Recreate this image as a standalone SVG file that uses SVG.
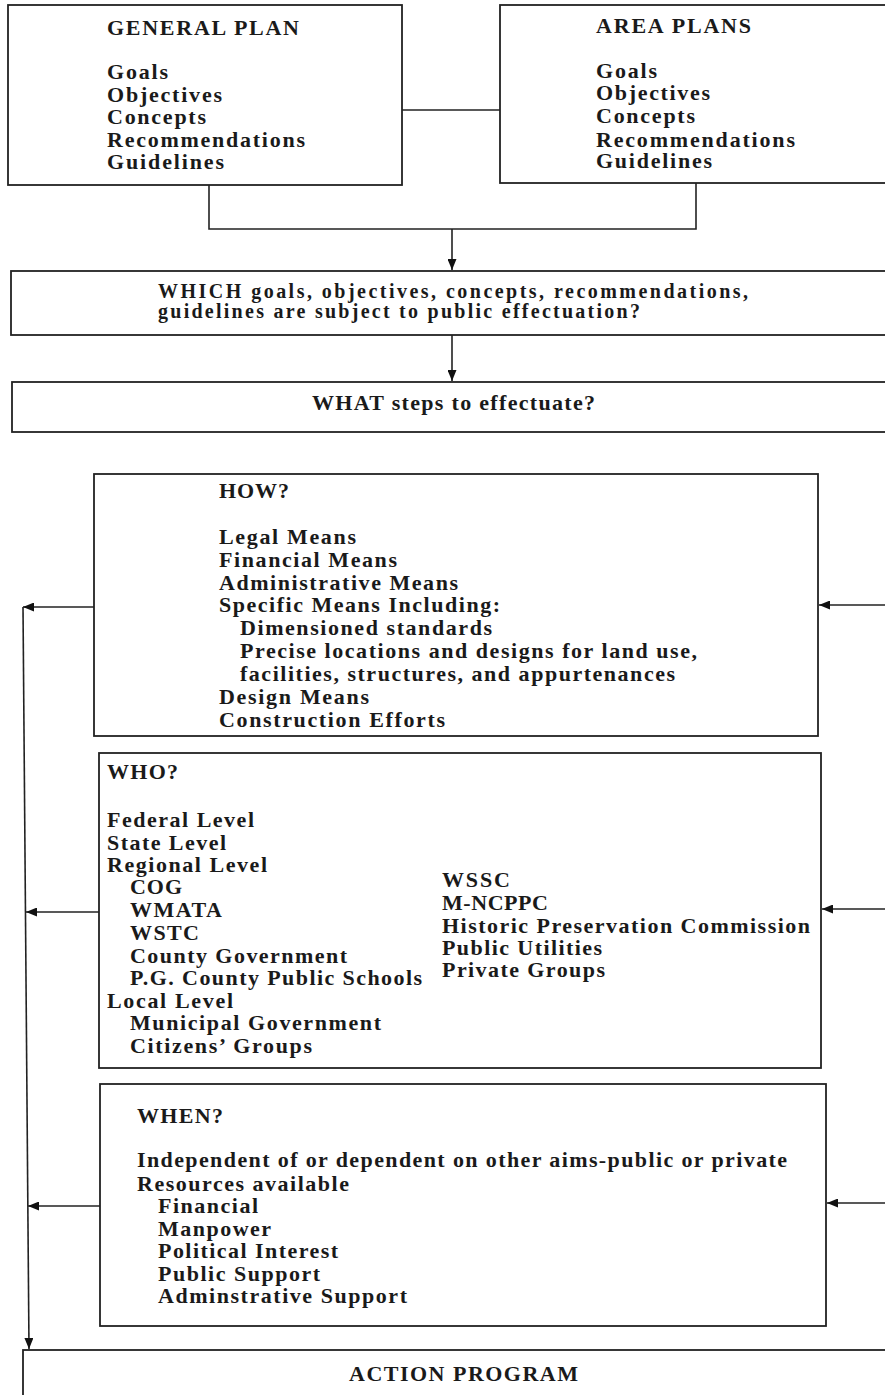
<svg xmlns="http://www.w3.org/2000/svg" width="885" height="1395" viewBox="0 0 885 1395">
<style>
.box{fill:#fff;stroke:#222;stroke-width:1.8}
.t{font-family:"Liberation Serif","Times New Roman",serif;font-weight:bold;fill:#1a1a1a;font-size:21px}
.w{font-size:22px}
.q{font-size:20px}
.s{font-size:22px}
.c{fill:none;stroke:#222;stroke-width:1.6}
</style>
<defs>
<marker id="arr" markerUnits="userSpaceOnUse" markerWidth="11" markerHeight="9" refX="11" refY="4.5" orient="auto">
<path d="M0,0 L11,4.5 L0,9 z" fill="#111"/>
</marker>
</defs>
<rect width="885" height="1395" fill="#fff"/>

<g id="connectors">
<line class="c" x1="402" y1="110" x2="500" y2="110"/>
<polyline class="c" points="209,185 209,229 696,229 696,183"/>
<line class="c" x1="452" y1="229" x2="452" y2="270" marker-end="url(#arr)"/>
<line class="c" x1="452" y1="335" x2="452" y2="381" marker-end="url(#arr)"/>
<line class="c" x1="885" y1="605" x2="819" y2="605" marker-end="url(#arr)"/>
<line class="c" x1="885" y1="909" x2="822" y2="909" marker-end="url(#arr)"/>
<line class="c" x1="885" y1="1203" x2="827" y2="1203" marker-end="url(#arr)"/>
<line class="c" x1="94" y1="607" x2="23" y2="607" marker-end="url(#arr)"/>
<line class="c" x1="99" y1="912" x2="26" y2="912" marker-end="url(#arr)"/>
<line class="c" x1="100" y1="1206" x2="28" y2="1206" marker-end="url(#arr)"/>
<line class="c" x1="23" y1="607" x2="29" y2="1349" marker-end="url(#arr)"/>
</g>

<g id="general-plan">
<rect class="box" x="8" y="5" width="394" height="180"/>
<text class="t w" x="107" y="35" textLength="192">GENERAL PLAN</text>
<text class="t w" x="107" y="79" textLength="61">Goals</text>
<text class="t w" x="107" y="102" textLength="115">Objectives</text>
<text class="t w" x="107" y="124" textLength="99">Concepts</text>
<text class="t w" x="107" y="147" textLength="198">Recommendations</text>
<text class="t w" x="107" y="169" textLength="117">Guidelines</text>
</g>

<g id="area-plans">
<rect class="box" x="500" y="5" width="400" height="178"/>
<text class="t w" x="596" y="33" textLength="155">AREA PLANS</text>
<text class="t w" x="596" y="78" textLength="61">Goals</text>
<text class="t w" x="596" y="100" textLength="114">Objectives</text>
<text class="t w" x="596" y="123" textLength="99">Concepts</text>
<text class="t w" x="596" y="147" textLength="199">Recommendations</text>
<text class="t w" x="596" y="168" textLength="116">Guidelines</text>
</g>

<g id="which">
<rect class="box" x="11" y="271" width="890" height="64"/>
<text class="t q" x="158" y="298" textLength="590">WHICH goals, objectives, concepts, recommendations,</text>
<text class="t q" x="158" y="318" textLength="482">guidelines are subject to public effectuation?</text>
</g>

<g id="what">
<rect class="box" x="12" y="382" width="890" height="50"/>
<text class="t w" x="312" y="410" textLength="283">WHAT steps to effectuate?</text>
</g>

<g id="how">
<rect class="box" x="94" y="474" width="724" height="262"/>
<text class="t s" x="219" y="498" textLength="70">HOW?</text>
<text class="t s" x="219" y="544" textLength="137">Legal Means</text>
<text class="t s" x="219" y="567" textLength="178">Financial Means</text>
<text class="t s" x="219" y="590" textLength="239">Administrative Means</text>
<text class="t s" x="219" y="612" textLength="281">Specific Means Including:</text>
<text class="t s" x="240" y="635" textLength="252">Dimensioned standards</text>
<text class="t s" x="240" y="658" textLength="457">Precise locations and designs for land use,</text>
<text class="t s" x="240" y="681" textLength="435">facilities, structures, and appurtenances</text>
<text class="t s" x="219" y="704" textLength="150">Design Means</text>
<text class="t s" x="219" y="727" textLength="226">Construction Efforts</text>
</g>

<g id="who">
<rect class="box" x="99" y="753" width="722" height="315"/>
<text class="t s" x="107" y="779" textLength="71">WHO?</text>
<text class="t s" x="107" y="827" textLength="147">Federal Level</text>
<text class="t s" x="107" y="850" textLength="119">State Level</text>
<text class="t s" x="107" y="872" textLength="160">Regional Level</text>
<text class="t s" x="130" y="894" textLength="52">COG</text>
<text class="t s" x="130" y="917" textLength="92">WMATA</text>
<text class="t s" x="130" y="940" textLength="69">WSTC</text>
<text class="t s" x="130" y="963" textLength="217">County Government</text>
<text class="t s" x="130" y="985" textLength="292">P.G. County Public Schools</text>
<text class="t s" x="107" y="1008" textLength="126">Local Level</text>
<text class="t s" x="130" y="1030" textLength="251">Municipal Government</text>
<text class="t s" x="130" y="1053" textLength="182">Citizens’ Groups</text>
<text class="t s" x="442" y="887" textLength="68">WSSC</text>
<text class="t s" x="442" y="910" textLength="106">M-NCPPC</text>
<text class="t s" x="442" y="933" textLength="368">Historic Preservation Commission</text>
<text class="t s" x="442" y="955" textLength="160">Public Utilities</text>
<text class="t s" x="442" y="977" textLength="163">Private Groups</text>
</g>

<g id="when">
<rect class="box" x="100" y="1084" width="726" height="242"/>
<text class="t s" x="137" y="1123" textLength="86">WHEN?</text>
<text class="t s" x="137" y="1167" textLength="650">Independent of or dependent on other aims-public or private</text>
<text class="t s" x="137" y="1191" textLength="212">Resources available</text>
<text class="t s" x="158" y="1213" textLength="100">Financial</text>
<text class="t s" x="158" y="1236" textLength="113">Manpower</text>
<text class="t s" x="158" y="1258" textLength="180">Political Interest</text>
<text class="t s" x="158" y="1281" textLength="162">Public Support</text>
<text class="t s" x="158" y="1303" textLength="249">Adminstrative Support</text>
</g>

<g id="action-program">
<rect class="box" x="23" y="1350" width="880" height="60"/>
<text class="t w" x="349" y="1381" textLength="229">ACTION PROGRAM</text>
</g>
</svg>
